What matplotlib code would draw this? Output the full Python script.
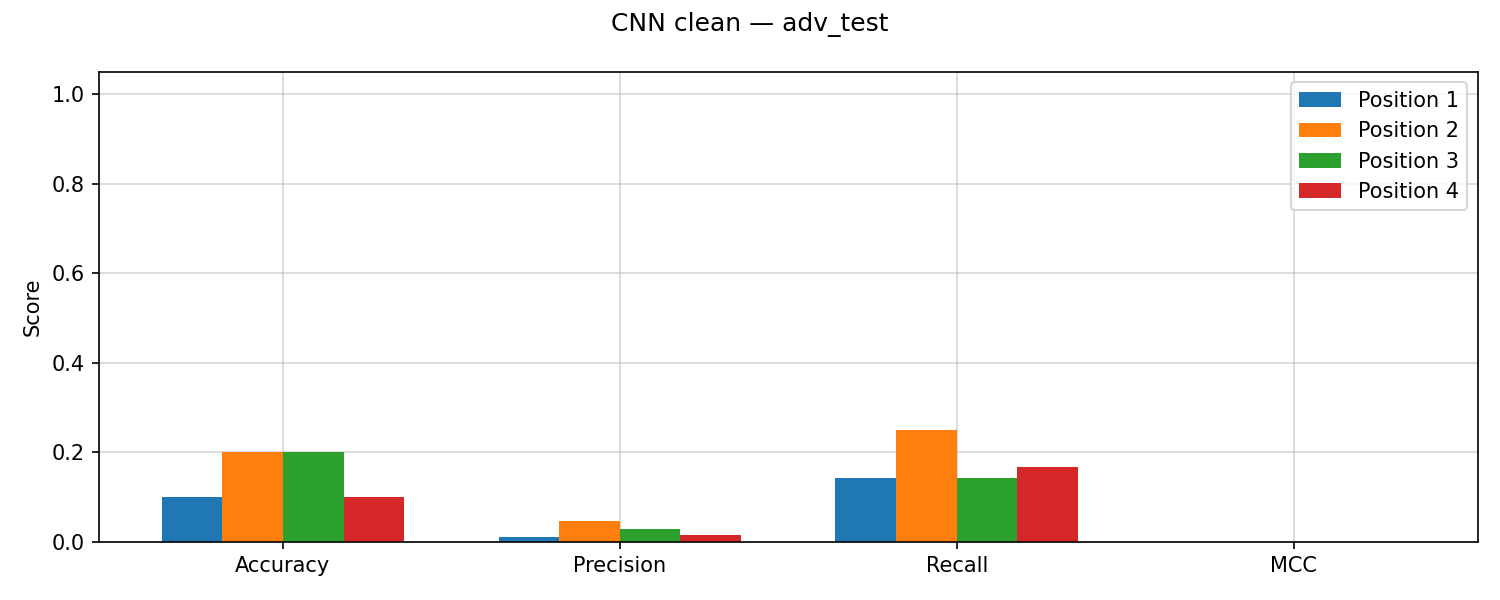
import numpy as np
import matplotlib
matplotlib.use("Agg")
import matplotlib.pyplot as plt

metrics = ["Accuracy", "Precision", "Recall", "MCC"]
positions = ["Position 1", "Position 2", "Position 3", "Position 4"]

pos1 = [0.100, 0.011, 0.143, 0.0]
pos2 = [0.200, 0.047, 0.250, 0.0]
pos3 = [0.200, 0.028, 0.143, 0.0]
pos4 = [0.100, 0.016, 0.167, 0.0]
series = [pos1, pos2, pos3, pos4]

x = np.arange(len(metrics))
width = 0.18

fig, ax = plt.subplots(figsize=(10, 4), dpi=150)
for i, (name, vals) in enumerate(zip(positions, series)):
    ax.bar(x + (i - 1.5) * width, vals, width, label=name)

ax.set_xticks(x)
ax.set_xticklabels(metrics)
ax.set_ylabel("Score")
ax.set_ylim(0, 1.05)
ax.grid(True, alpha=0.5)
ax.set_axisbelow(True)
ax.legend(loc="upper right")
fig.suptitle("CNN clean \u2014 adv_test")
fig.subplots_adjust(left=0.066, right=0.985, top=0.88, bottom=0.097)
fig.savefig("out.png")
